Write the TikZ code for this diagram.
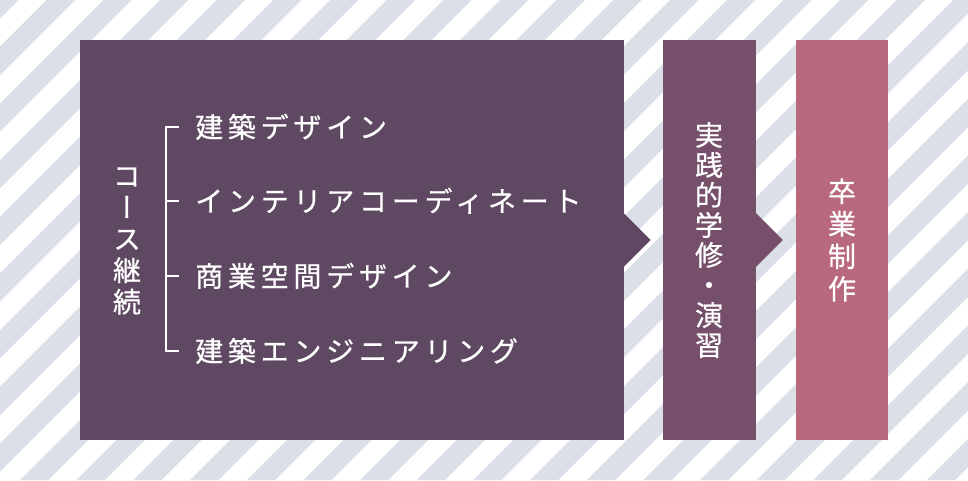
\documentclass[tikz,border=0pt]{standalone}
\usepackage{fontspec}
\usetikzlibrary{positioning}
\newfontfamily\jpfont{Noto Sans CJK JP}[FakeBold=0.6]
\newfontfamily\jpvfont{Noto Sans CJK JP}[RawFeature=+vert,FakeBold=0.6]
\definecolor{stripe}{HTML}{DADFE8}
\definecolor{course}{HTML}{5F4862}
\definecolor{practice}{HTML}{76506A}
\definecolor{graduate}{HTML}{B8697E}

\begin{document}
\begin{tikzpicture}[x=1pt,y=-1pt,
  panel/.style={inner sep=0pt,minimum height=400pt},
  item/.style={anchor=west,inner sep=0pt,text=white,text height=24.6pt,text depth=3.4pt,
    font=\jpfont\fontsize{28}{28}\selectfont\addfontfeature{LetterSpace=17}},
  vlabel/.style={inner sep=0pt,align=center,text=white}]
\useasboundingbox (0,0) rectangle (968,480);
\begin{scope}
\clip (0,0) rectangle (968,480);
\foreach \k in {-1,...,25}
  \fill[stripe] ({46.7+56.67*\k},0) -- ({75+56.67*\k},0) -- ({75+56.67*\k-480},480) -- ({46.7+56.67*\k-480},480) -- cycle;
\end{scope}

\node[panel,fill=course,minimum width=544pt] (course) at (352,240) {};
\node[panel,fill=practice,minimum width=92.4pt] (practice) at (709.5,240) {};
\node[panel,fill=graduate,minimum width=92pt] (graduate) at (842,240) {};
\fill[course] ([yshift=26.5pt]course.east) -- ([xshift=26.5pt]course.east) -- ([yshift=-26.5pt]course.east) -- cycle;
\fill[practice] ([yshift=27pt]practice.east) -- ([xshift=27pt]practice.east) -- ([yshift=-27pt]practice.east) -- cycle;

\node[vlabel,font=\jpvfont\fontsize{28}{31.5}\selectfont] (keep) at (127,241) {コ\\ー\\ス\\継\\続};
\node[vlabel,font=\jpvfont\fontsize{28}{30}\selectfont] (practicetext) at (709,240) {実\\践\\的\\学\\修\\・\\演\\習};
\node[vlabel,font=\jpvfont\fontsize{28}{32.5}\selectfont] (graduatetext) at (842,240) {卒\\業\\制\\作};

\node[item] (d1) at (195,127) {建築デザイン};
\node[item] (d2) at (195,201) {インテリアコーディネート};
\node[item] (d3) at (195,276) {商業空間デザイン};
\node[item] (d4) at (195,351) {建築エンジニアリング};
\draw[white,line width=1.5pt] ([xshift=-16pt]d1.west) -- ([xshift=-29pt]d1.west) -- ([xshift=-29pt]d4.west) -- ([xshift=-16pt]d4.west);
\draw[white,line width=1.5pt] ([xshift=-16pt]d2.west) -- ([xshift=-29pt]d2.west);
\draw[white,line width=1.5pt] ([xshift=-16pt]d3.west) -- ([xshift=-29pt]d3.west);
\end{tikzpicture}
\end{document}
